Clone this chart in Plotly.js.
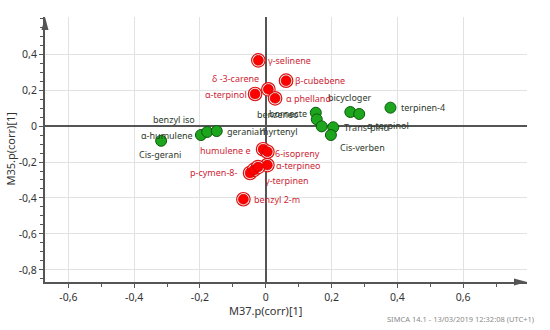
<!DOCTYPE html>
<html><head><meta charset="utf-8">
<script src="https://cdn.plot.ly/plotly-3.0.1.min.js"></script>
<style>html,body{margin:0;padding:0;background:#fff}</style>
</head><body>
<div id="chart" style="width:550px;height:330px"></div>
<script>
// ---- data ----
var redNames = ["γ-selinene","β-cubebene","δ -3-carene","α-terpinol","α phelland","humulene e","6-isopreny","α-terpineo","p-cymen-8-","","γ-terpinen","benzyl 2-m"];
var redX = [-0.0225, 0.0617, 0.0079, -0.0325, 0.0283, -0.0082, 0.0049, 0.0049, -0.0477, -0.0356, -0.0234, -0.068];
var redY = [0.365, 0.252, 0.204, 0.178, 0.154, -0.129, -0.143, -0.217, -0.261, -0.244, -0.228, -0.407];

var greenNames = ["Cis-gerani","α-humulene","benzyl iso","geranial1","bornecte","benzeneo","myrtenyl","Trans-pino","Cis-verben","bicycloger","α-terpinol","terpinen-4"];
var greenX = [-0.318, -0.197, -0.178, -0.149, 0.152, 0.155, 0.170, 0.205, 0.198, 0.257, 0.284, 0.379];
var greenY = [-0.082, -0.050, -0.033, -0.028, 0.074, 0.037, -0.002, -0.007, -0.050, 0.078, 0.067, 0.102];

var xTickVals = [-0.6, -0.4, -0.2, 0, 0.2, 0.4, 0.6];
var xTickText = ["-0,6", "-0,4", "-0,2", "0", "0,2", "0,4", "0,6"];
var yTickVals = [-0.8, -0.6, -0.4, -0.2, 0, 0.2, 0.4];
var yTickText = ["-0,8", "-0,6", "-0,4", "-0,2", "0", "0,2", "0,4"];

// ---- label placement (style, not data): [xanchor, xshift, yshift] ----
var redPlace = [["left",8,0],["left",7,0],["right",-7,11],["right",-6,0],["left",9,0],["right",-10,-1],["left",6,-2],["left",7,0],["right",-11,0],["left",0,0],["left",5,-13],["left",9,0]];
var greenPlace = [["center",-1,-14],["right",-6,0],["right",-10,12],["left",8,0],["right",-7,-1],["right",-16,5],["right",-22,-5],["left",9,0],["left",7,-12],["center",-1,14],["left",6,-12],["left",9,0]];

var FONT = "Noto Sans, Open Sans, sans-serif";
var redLabelColor = "#cc1f36";
var greenLabelColor = "#2d3a2d";

var traces = [
  {x: greenX, y: greenY, mode: "markers", type: "scatter", hoverinfo: "skip",
   marker: {size: 11, color: "#1ea51e", line: {color: "#0d5a0d", width: 1}}},
  {x: redX, y: redY, mode: "markers", type: "scatter", hoverinfo: "skip",
   marker: {size: 13.5, color: "#ffffff", line: {color: "#e01010", width: 1.2}}},
  {x: redX, y: redY, mode: "markers", type: "scatter", hoverinfo: "skip",
   marker: {size: 10, color: "#ff0000", line: {color: "#c00000", width: 0.6}}}
];

var annotations = [];
function addLabels(names, xs, ys, place, color) {
  for (var i = 0; i < names.length; i++) {
    if (!names[i]) continue;
    annotations.push({x: xs[i], y: ys[i], xref: "x", yref: "y", text: names[i], showarrow: false,
      xanchor: place[i][0], yanchor: "middle", xshift: place[i][1], yshift: place[i][2],
      font: {family: FONT, size: 9, color: color}});
  }
}
addLabels(greenNames, greenX, greenY, greenPlace, greenLabelColor);
addLabels(redNames, redX, redY, redPlace, redLabelColor);

annotations.push({xref: "paper", yref: "paper", x: 0.4585, y: -0.109, text: "M37.p(corr)[1]", showarrow: false,
  xanchor: "center", yanchor: "middle", font: {family: FONT, size: 11, color: "#333"}});
annotations.push({xref: "paper", yref: "paper", x: -0.0726, y: 0.5, text: "M35.p(corr)[1]", showarrow: false, textangle: -90,
  xanchor: "center", yanchor: "middle", font: {family: FONT, size: 11, color: "#333"}});
annotations.push({xref: "paper", yref: "paper", x: 1.0187, y: -0.1396, text: "SIMCA 14.1 - 13/03/2019 12:32:08 (UTC+1)", showarrow: false,
  xanchor: "right", yanchor: "middle", font: {family: FONT, size: 7.5, color: "#8a8a8a"}});

var layout = {
  width: 550, height: 330,
  margin: {l: 45, r: 23, t: 17, b: 48},
  paper_bgcolor: "#fff", plot_bgcolor: "#fff",
  showlegend: false,
  font: {family: FONT, size: 11, color: "#333"},
  xaxis: {range: [-0.671, 0.794], tickvals: xTickVals, ticktext: xTickText,
    showgrid: true, gridcolor: "#e2e2e2", gridwidth: 1,
    zeroline: true, zerolinecolor: "#555", zerolinewidth: 1.5,
    showline: true, linecolor: "#555", linewidth: 2,
    ticks: "outside", ticklen: 4, tickcolor: "#555", tickwidth: 1,
    minor: {dtick: 0.1, tick0: 0, ticks: "outside", ticklen: 3, tickcolor: "#555", showgrid: false},
    tickfont: {family: FONT, size: 10.5, color: "#333"}},
  yaxis: {range: [-0.867, 0.606], tickvals: yTickVals, ticktext: yTickText,
    showgrid: true, gridcolor: "#e2e2e2", gridwidth: 1,
    zeroline: true, zerolinecolor: "#555", zerolinewidth: 1.5,
    showline: true, linecolor: "#555", linewidth: 2,
    ticks: "outside", ticklen: 4, tickcolor: "#555", tickwidth: 1,
    minor: {dtick: 0.05, tick0: 0, ticks: "outside", ticklen: 3, tickcolor: "#555", showgrid: false},
    tickfont: {family: FONT, size: 10.5, color: "#333"}},
  shapes: [
    {type: "path", xref: "paper", yref: "paper", xsizemode: "pixel", ysizemode: "pixel",
     xanchor: 0, yanchor: 1, path: "M0,0 L-3.5,-13 L3.5,-13 Z", fillcolor: "#555", line: {width: 0}},
    {type: "path", xref: "paper", yref: "paper", xsizemode: "pixel", ysizemode: "pixel",
     xanchor: 1, yanchor: 0, path: "M0,0 L-13,3.5 L-13,-3.5 Z", fillcolor: "#555", line: {width: 0}}
  ],
  annotations: annotations
};

Plotly.newPlot("chart", traces, layout, {staticPlot: true, displayModeBar: false});
</script>
</body></html>
